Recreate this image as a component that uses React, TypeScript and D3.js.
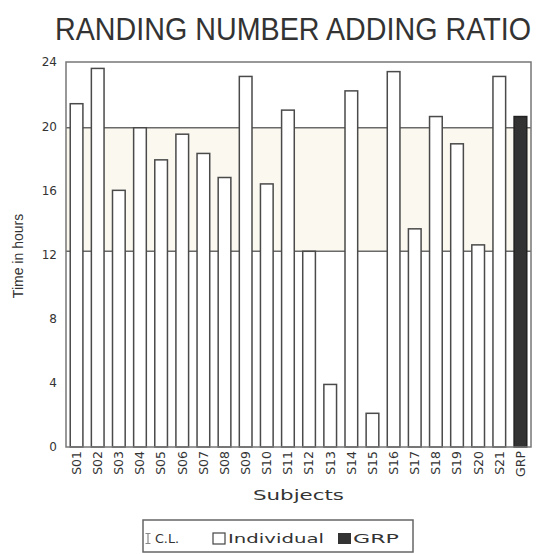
import React, { useEffect, useRef } from 'react';
import * as d3 from 'd3';

// subjects along the x axis, last one is the group mean
const subjects = [
    'S01', 'S02', 'S03', 'S04', 'S05', 'S06', 'S07', 'S08', 'S09', 'S10', 'S11',
    'S12', 'S13', 'S14', 'S15', 'S16', 'S17', 'S18', 'S19', 'S20', 'S21', 'GRP',
];
// time in hours
const hours = [
    21.4, 23.6, 16.0, 19.9, 17.9, 19.5, 18.3, 16.8, 23.1, 16.4, 21.0,
    12.2, 3.9, 22.2, 2.1, 23.4, 13.6, 20.6, 18.9, 12.6, 23.1, 20.6,
];
// confidence limits of the group (lower, upper)
const confLimits = [12.2, 19.9];
const yTicks = [0, 4, 8, 12, 16, 20, 24];

const App: React.FC = () => {
    const ref = useRef<SVGSVGElement>(null);

    useEffect(() => {
        const width = 541;
        const height = 554;
        const margin = { top: 62, right: 10, bottom: 107, left: 66 };

        d3.select(ref.current).selectAll('*').remove();

        const svg = d3
            .select(ref.current)
            .attr('width', width)
            .attr('height', height);

        const x = d3
            .scaleBand()
            .domain(subjects)
            .range([margin.left, width - margin.right])
            .paddingInner(0.4)
            .paddingOuter(0.2);

        const y = d3
            .scaleLinear()
            .domain([0, 24])
            .range([height - margin.bottom, margin.top]);

        // title: a narrower font size, stretched vertically to match the tall caps
        svg.append('text')
            .attr('transform', 'translate(55,40) scale(1,1.12)')
            .attr('textLength', 476)
            .attr('lengthAdjust', 'spacingAndGlyphs')
            .style('font-family', 'Liberation Sans, Arial, sans-serif')
            .style('font-size', '28.5px')
            .attr('fill', '#333')
            .text('RANDING NUMBER ADDING RATIO');

        // confidence band, drawn under the bars
        svg.append('rect')
            .attr('x', margin.left)
            .attr('y', y(confLimits[1]))
            .attr('width', width - margin.right - margin.left)
            .attr('height', y(confLimits[0]) - y(confLimits[1]))
            .attr('fill', '#faf8ef');

        confLimits.forEach((v) => {
            svg.append('line')
                .attr('x1', margin.left)
                .attr('x2', width - margin.right)
                .attr('y1', y(v))
                .attr('y2', y(v))
                .attr('stroke', '#6a6a6a')
                .attr('stroke-width', 1.5);
        });

        // bars
        svg.selectAll('rect.bar')
            .data(subjects)
            .enter()
            .append('rect')
            .attr('class', 'bar')
            .attr('x', (d) => x(d) ?? 0)
            .attr('y', (d, i) => y(hours[i]))
            .attr('width', x.bandwidth())
            .attr('height', (d, i) => y(0) - y(hours[i]))
            .attr('fill', (d) => (d === 'GRP' ? '#333' : '#fff'))
            .attr('stroke', (d) => (d === 'GRP' ? '#222' : '#4a4a4a'))
            .attr('stroke-width', 1.5);

        // frame
        svg.append('rect')
            .attr('x', margin.left)
            .attr('y', margin.top)
            .attr('width', width - margin.right - margin.left)
            .attr('height', y(0) - margin.top)
            .attr('fill', 'none')
            .attr('stroke', '#777')
            .attr('stroke-width', 1.5);

        // y axis labels
        const yAxis = svg
            .append('g')
            .attr('transform', `translate(${margin.left},0)`)
            .call(d3.axisLeft(y).tickValues(yTicks).tickSize(0).tickPadding(9));
        yAxis.select('.domain').remove();
        yAxis.selectAll('text')
            .style('font-family', 'DejaVu Sans, sans-serif')
            .style('font-size', '12px')
            .attr('fill', '#333');

        // x axis labels, rotated
        const xAxis = svg
            .append('g')
            .attr('transform', `translate(0,${y(0)})`)
            .call(d3.axisBottom(x).tickSize(0));
        xAxis.select('.domain').remove();
        xAxis.selectAll('text')
            .attr('transform', 'rotate(-90)')
            .attr('text-anchor', 'end')
            .attr('x', -4)
            .attr('y', 0)
            .attr('dy', '0.35em')
            .style('font-family', 'DejaVu Sans, sans-serif')
            .style('font-size', '12.5px')
            .attr('fill', '#333');

        // axis titles
        svg.append('text')
            .attr('transform', 'rotate(-90)')
            .attr('x', -256)
            .attr('y', 23)
            .attr('text-anchor', 'middle')
            .style('font-family', 'Liberation Sans, Arial, sans-serif')
            .style('font-size', '14px')
            .attr('fill', '#333')
            .text('Time in hours');

        svg.append('text')
            .attr('x', 253)
            .attr('y', 500)
            .attr('textLength', 91)
            .attr('lengthAdjust', 'spacingAndGlyphs')
            .style('font-family', 'DejaVu Sans, sans-serif')
            .style('font-size', '14px')
            .attr('fill', '#333')
            .text('Subjects');

        // legend
        const legend = svg.append('g');
        legend.append('rect')
            .attr('x', 143)
            .attr('y', 520)
            .attr('width', 270)
            .attr('height', 32)
            .attr('fill', '#fff')
            .attr('stroke', '#666')
            .attr('stroke-width', 1.5);

        legend.append('path')
            .attr('d', 'M145.5,533.5H150.5M148,533.5V543.5M145.5,543.5H150.5')
            .attr('stroke', '#888')
            .attr('stroke-width', 1.2)
            .attr('fill', 'none');

        const legendText = (tx: number, len: number, label: string) =>
            legend.append('text')
                .attr('x', tx)
                .attr('y', 543)
                .attr('textLength', len)
                .attr('lengthAdjust', 'spacingAndGlyphs')
                .style('font-family', 'DejaVu Sans, sans-serif')
                .style('font-size', '12.5px')
                .attr('fill', '#333')
                .text(label);

        legendText(155, 24, 'C.L.');

        legend.append('rect')
            .attr('x', 213)
            .attr('y', 533)
            .attr('width', 12)
            .attr('height', 11)
            .attr('fill', '#fff')
            .attr('stroke', '#444')
            .attr('stroke-width', 1.2);
        legendText(228, 96, 'Individual');

        legend.append('rect')
            .attr('x', 338)
            .attr('y', 533)
            .attr('width', 13)
            .attr('height', 11)
            .attr('fill', '#333');
        legendText(353, 46, 'GRP');
    }, []);

    return (
        <>
            <style>{'body{margin:0}'}</style>
            <svg ref={ref}></svg>
        </>
    );
};

export default App;
